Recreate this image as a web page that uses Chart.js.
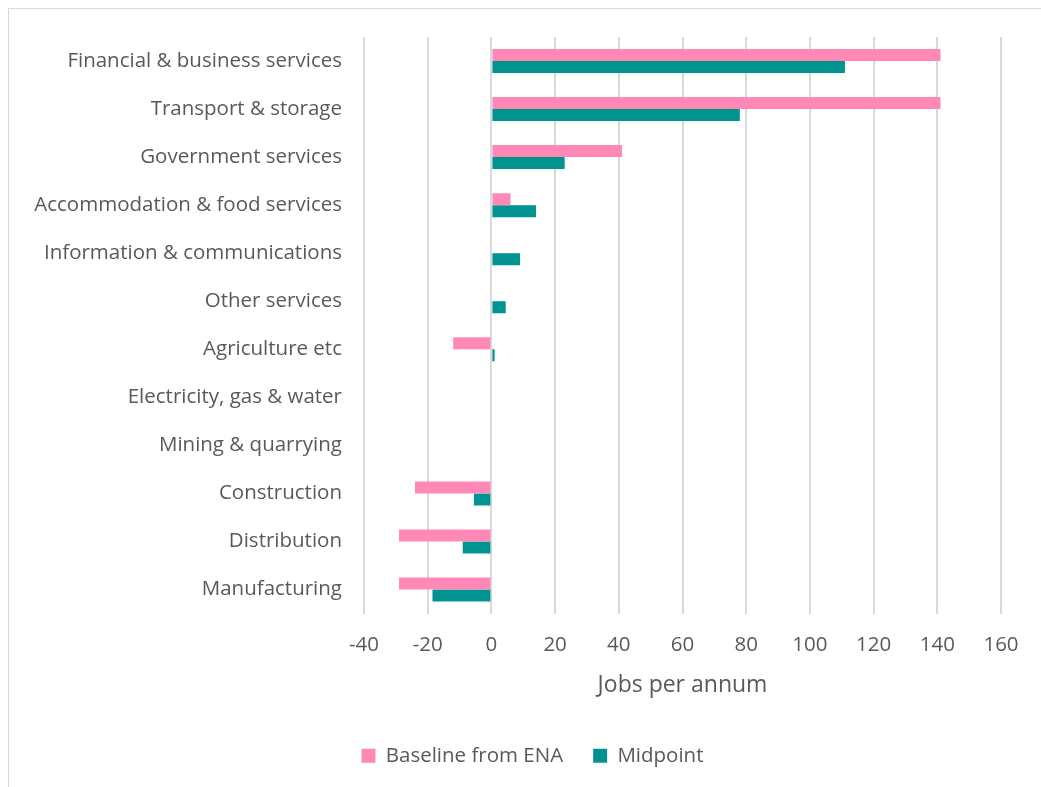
<!DOCTYPE html>
<html>
<head>
<meta charset="utf-8">
<script src="https://cdn.jsdelivr.net/npm/chart.js@4/dist/chart.umd.min.js"></script>
<style>
    html, body {
        margin: 0;
        padding: 0;
        background: #ffffff;
        overflow: hidden;
    }
    .frame {
        position: absolute;
        left: 8px;
        top: 8px;
        width: 1200px;
        height: 1000px;
        border: 1px solid #d9d9d9;
        box-sizing: border-box;
    }
    .chart-box {
        position: absolute;
        left: 0;
        top: 0;
        width: 1041px;
        height: 787px;
    }
</style>
</head>
<body>
<div class="frame"></div>
<div class="chart-box">
    <canvas id="jobsChart" width="1041" height="787"></canvas>
</div>
<script>
// Sectors, top to bottom
const sectors = [
    'Financial & business services',
    'Transport & storage',
    'Government services',
    'Accommodation & food services',
    'Information & communications',
    'Other services',
    'Agriculture etc',
    'Electricity, gas & water',
    'Mining & quarrying',
    'Construction',
    'Distribution',
    'Manufacturing'
];

// Jobs per annum by sector
const baselineENA = [141, 141, 41, 6, 0, 0, -12, 0, 0, -24, -29, -29];
const midpoint = [111, 78, 23, 14, 9, 4.5, 1, 0, 0, -5.5, -9, -18.5];

const xTicks = [-40, -20, 0, 20, 40, 60, 80, 100, 120, 140, 160];

const textColor = '#595959';
const fontFamily = '"Open Sans", Lato, sans-serif';

// Nudge the legend so it sits centred under the plot area
const legendShift = {
    id: 'legendShift',
    afterLayout(chart) {
        if (chart.legend) {
            chart.legend.left += 64;
        }
    }
};

function initJobsChart() {
    const ctx = document.getElementById('jobsChart').getContext('2d');

    new Chart(ctx, {
        type: 'bar',
        data: {
            labels: sectors,
            datasets: [
                {
                    label: 'Baseline from ENA',
                    data: baselineENA,
                    backgroundColor: '#ff89b6',
                    borderWidth: 0,
                    categoryPercentage: 0.5,
                    barPercentage: 1.0
                },
                {
                    label: 'Midpoint',
                    data: midpoint,
                    backgroundColor: '#00938f',
                    borderWidth: 0,
                    categoryPercentage: 0.5,
                    barPercentage: 1.0
                }
            ]
        },
        options: {
            indexAxis: 'y',
            responsive: false,
            animation: false,
            layout: {
                padding: { top: 37, right: 40, bottom: 11, left: 0 }
            },
            plugins: {
                tooltip: { enabled: false },
                legend: {
                    position: 'bottom',
                    labels: {
                        color: textColor,
                        boxWidth: 14,
                        boxHeight: 14,
                        padding: 30,
                        font: { family: fontFamily, size: 20.5 }
                    }
                }
            },
            scales: {
                x: {
                    min: -40,
                    max: 160,
                    afterBuildTicks: axis => {
                        axis.ticks = xTicks.map(v => ({ value: v }));
                    },
                    afterFit: axis => {
                        axis.height = 102;
                    },
                    border: { display: false },
                    grid: {
                        color: '#d9d9d9',
                        lineWidth: 2,
                        drawTicks: false
                    },
                    ticks: {
                        color: textColor,
                        padding: 19,
                        font: { family: fontFamily, size: 20.5 }
                    },
                    title: {
                        display: true,
                        text: 'Jobs per annum',
                        color: textColor,
                        padding: { top: 10, bottom: 16 },
                        font: { family: fontFamily, size: 23 }
                    }
                },
                y: {
                    afterFit: axis => {
                        axis.width = 364;
                    },
                    border: { display: false },
                    grid: { display: false, drawTicks: false },
                    ticks: {
                        color: textColor,
                        padding: 22,
                        font: { family: fontFamily, size: 20.5 }
                    }
                }
            }
        },
        plugins: [legendShift]
    });
}

document.addEventListener('DOMContentLoaded', initJobsChart);
</script>
</body>
</html>
